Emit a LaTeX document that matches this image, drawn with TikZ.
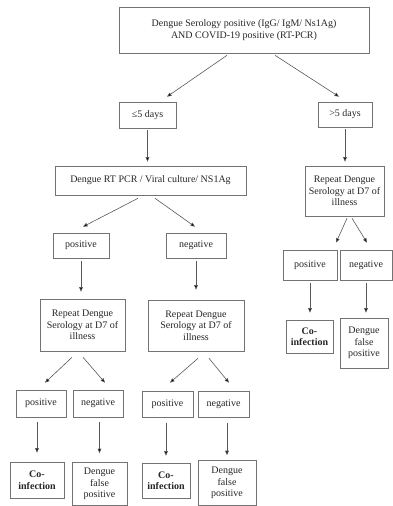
\documentclass[tikz,border=0pt]{standalone}
\usepackage{fontspec}
\setmainfont{Liberation Serif}
\usetikzlibrary{arrows.meta}
\tikzset{
  box/.style={draw=black!55, line width=0.6pt, inner sep=1pt, align=center,
    text=black!85, font=\fontsize{10}{11.5}\selectfont},
  bbox/.style={box, font=\fontsize{10}{11.5}\selectfont\bfseries},
  arr/.style={draw=black!65, line width=0.6pt,
    -{Triangle[length=4.5pt,width=3.6pt,fill=black]}}
}
\begin{document}
\begin{tikzpicture}[x=1pt,y=-1pt]
\useasboundingbox (0,0) rectangle (393,506);
% Boxes
\node[box, minimum width=250pt, minimum height=46pt] (top) at (244,30)
  {Dengue Serology positive (IgG/ IgM/ Ns1Ag)\\AND COVID-19 positive (RT-PCR)};
\node[box, minimum width=57pt, minimum height=26pt] (le5) at (147.5,115) {≤5 days};
\node[box, minimum width=54pt, minimum height=25pt] (gt5) at (345,114.5) {>5 days};
\node[box, minimum width=191pt, minimum height=29pt] (rt) at (150.5,180.5)
  {Dengue RT PCR / Viral culture/ NS1Ag};
\node[box, minimum width=56pt, minimum height=25pt] (pos) at (81,245.5) {positive};
\node[box, minimum width=60pt, minimum height=25pt] (neg) at (196,245.5) {negative};
% right branch
\node[box, minimum width=79pt, minimum height=50pt] (repR) at (344.5,191)
  {Repeat Dengue\\Serology at D7 of\\illness};
\node[box, minimum width=54pt, minimum height=30pt] (posR) at (310,265) {positive};
\node[box, minimum width=52pt, minimum height=30pt] (negR) at (366,265) {negative};
\node[bbox, minimum width=47pt, minimum height=33pt] (coR) at (309.5,336.5) {Co-\\infection};
\node[box, minimum width=48pt, minimum height=50pt] (dfpR) at (364,343) {Dengue\\false\\positive};
% left branch
\node[box, minimum width=85pt, minimum height=52pt] (repL) at (82.5,325)
  {Repeat Dengue\\Serology at D7 of\\illness};
\node[box, minimum width=50pt, minimum height=27pt] (posL) at (41,403.5) {positive};
\node[box, minimum width=50pt, minimum height=27pt] (negL) at (98,403.5) {negative};
\node[bbox, minimum width=54pt, minimum height=36pt] (coL) at (37,480) {Co-\\infection};
\node[box, minimum width=55pt, minimum height=43pt] (dfpL) at (99.5,484) {Dengue\\false\\positive};
% middle branch
\node[box, minimum width=96pt, minimum height=51pt] (repM) at (196,325.5)
  {Repeat Dengue\\Serology at D7 of\\illness};
\node[box, minimum width=51pt, minimum height=26pt] (posM) at (167.5,404) {positive};
\node[box, minimum width=51pt, minimum height=26pt] (negM) at (223.5,404) {negative};
\node[bbox, minimum width=48pt, minimum height=35pt] (coM) at (166,480.5) {Co-\\infection};
\node[box, minimum width=58pt, minimum height=45pt] (dfpM) at (227,483) {Dengue\\false\\positive};
% Arrows
\draw[arr] ([xshift=-17pt,yshift=-2pt]top.south) -- ([xshift=19.5pt,yshift=5pt]le5.north);
\draw[arr] ([xshift=31pt,yshift=-2pt]top.south) -- ([xshift=-6pt,yshift=5pt]gt5.north);
\draw[arr, shorten <=2pt, shorten >=4pt] (le5.south) -- (le5.south |- rt.north);
\draw[arr, shorten <=2pt, shorten >=4pt] (gt5.south) -- (gt5.south |- repR.north);
\draw[arr] ([xshift=-12.5pt,yshift=-3pt]rt.south) -- ([xshift=2pt,yshift=6pt]pos.north);
\draw[arr] ([xshift=4.5pt,yshift=-3pt]rt.south) -- ([xshift=-1pt,yshift=6pt]neg.north);
\draw[arr, shorten <=3pt, shorten >=7pt] (pos.south) -- (pos.south |- repL.north);
\draw[arr, shorten <=3pt, shorten >=10pt] (neg.south) -- (neg.south |- repM.north);
% right branch
\draw[arr] ([xshift=2.5pt,yshift=-2pt]repR.south) -- ([xshift=26pt,yshift=7pt]posR.north);
\draw[arr] ([xshift=7.5pt,yshift=-2pt]repR.south) -- ([xshift=1pt,yshift=7pt]negR.north);
\draw[arr, shorten <=3pt, shorten >=7pt] (posR.south) -- (posR.south |- coR.north);
\draw[arr, shorten <=3pt, shorten >=5pt] (negR.south) -- (negR.south |- dfpR.north);
% left branch
\draw[arr] ([xshift=-10.5pt,yshift=-6pt]repL.south) -- ([xshift=4pt,yshift=7pt]posL.north);
\draw[arr] ([xshift=0.5pt,yshift=-6pt]repL.south) -- ([xshift=7pt,yshift=7pt]negL.north);
\draw[arr, shorten <=5pt, shorten >=9pt] (coL.north |- posL.south) -- (coL.north);
\draw[arr, shorten <=5pt, shorten >=9pt] (dfpL.north |- negL.south) -- (dfpL.north);
% middle branch
\draw[arr] ([xshift=2pt,yshift=-7pt]repM.south) -- ([xshift=2.5pt,yshift=8pt]posM.north);
\draw[arr] ([xshift=13pt,yshift=-7pt]repM.south) -- ([xshift=5.5pt,yshift=8pt]negM.north);
\draw[arr, shorten <=6pt, shorten >=7pt] (coM.north |- posM.south) -- (coM.north);
\draw[arr, shorten <=6pt, shorten >=5pt] (dfpM.north |- negM.south) -- (dfpM.north);
\end{tikzpicture}
\end{document}
